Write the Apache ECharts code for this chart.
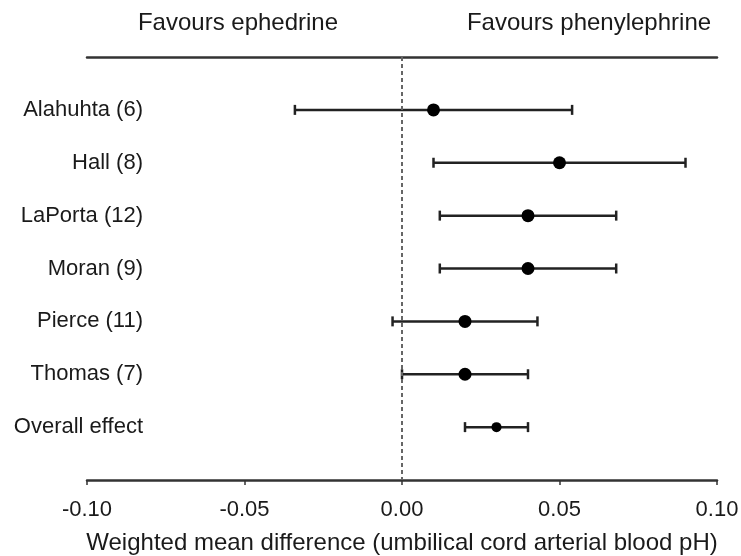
<!DOCTYPE html>
<html>
<head>
<meta charset="utf-8">
<script src="https://cdn.jsdelivr.net/npm/echarts@6/dist/echarts.min.js"></script>
<style>
  html, body { margin: 0; padding: 0; background: #fff; }
  #chart { width: 741px; height: 556px; }
</style>
</head>
<body>
<div id="chart"></div>
<script>
// Forest plot: weighted mean difference in umbilical cord arterial blood pH
const studies = ['Alahuhta (6)', 'Hall (8)', 'LaPorta (12)', 'Moran (9)', 'Pierce (11)', 'Thomas (7)', 'Overall effect'];
const means = [0.01, 0.05, 0.04, 0.04, 0.02, 0.02, 0.03];
const lower = [-0.034, 0.01, 0.012, 0.012, -0.003, 0.0, 0.02];
const upper = [0.054, 0.09, 0.068, 0.068, 0.043, 0.04, 0.04];
const xTicks = [-0.10, -0.05, 0.00, 0.05, 0.10];
const headers = ['Favours ephedrine', 'Favours phenylephrine'];
const xTitle = 'Weighted mean difference (umbilical cord arterial blood pH)';

const FONT = '"Liberation Sans", Arial, Helvetica, sans-serif';
const INK = '#1a1a1a';

const chart = echarts.init(document.getElementById('chart'), null, { renderer: 'canvas' });

const ciData = studies.map((s, i) => [lower[i], upper[i], i]);
const pointData = studies.map((s, i) => [means[i], i]);
const lastIdx = studies.length - 1;

// Confidence interval: horizontal bar with end caps
function renderCI(params, api) {
  const lo = api.coord([api.value(0), api.value(2)]);
  const hi = api.coord([api.value(1), api.value(2)]);
  const cap = 5;
  const style = { stroke: '#222', lineWidth: 2.5, fill: null };
  return {
    type: 'group',
    children: [
      { type: 'line', shape: { x1: lo[0], y1: lo[1], x2: hi[0], y2: hi[1] }, style },
      { type: 'line', shape: { x1: lo[0], y1: lo[1] - cap, x2: lo[0], y2: lo[1] + cap }, style },
      { type: 'line', shape: { x1: hi[0], y1: hi[1] - cap, x2: hi[0], y2: hi[1] + cap }, style }
    ]
  };
}

const option = {
  animation: false,
  backgroundColor: '#fff',
  textStyle: { fontFamily: FONT, color: INK },
  grid: { left: 87, right: 24, top: 57, bottom: 76, containLabel: false, outerBoundsMode: 'none' },
  xAxis: [
    {
      type: 'value',
      position: 'bottom',
      min: xTicks[0],
      max: xTicks[xTicks.length - 1],
      interval: 0.05,
      splitLine: { show: false },
      axisLine: { show: true, onZero: false, lineStyle: { color: '#333', width: 2.5 } },
      axisTick: { show: true, inside: false, length: 5, lineStyle: { color: '#333', width: 1.5 } },
      axisLabel: {
        margin: 19,
        fontSize: 22,
        fontFamily: FONT,
        color: INK,
        formatter: v => v.toFixed(2)
      },
      name: xTitle,
      nameLocation: 'middle',
      nameGap: 51,
      nameTextStyle: { fontSize: 24, fontFamily: FONT, color: INK }
    },
    {
      type: 'value',
      position: 'top',
      min: xTicks[0],
      max: xTicks[xTicks.length - 1],
      interval: 0.05,
      splitLine: { show: false },
      axisLine: { show: true, onZero: false, lineStyle: { color: '#333', width: 2.5 } },
      axisTick: { show: false },
      axisLabel: { show: false }
    }
  ],
  yAxis: {
    type: 'value',
    inverse: true,
    min: -1,
    max: 7,
    interval: 1,
    offset: -64,
    splitLine: { show: false },
    axisLine: { show: false, onZero: false },
    axisTick: { show: false },
    axisLabel: {
      margin: 8,
      fontSize: 22,
      fontFamily: FONT,
      color: INK,
      formatter: v => (studies[v] !== undefined ? studies[v] : '')
    }
  },
  graphic: [
    {
      type: 'text', x: 238, y: 23,
      style: { text: headers[0], font: '24px ' + FONT, fill: INK, textAlign: 'center', textVerticalAlign: 'middle' }
    },
    {
      type: 'text', x: 589, y: 23,
      style: { text: headers[1], font: '24px ' + FONT, fill: INK, textAlign: 'center', textVerticalAlign: 'middle' }
    }
  ],
  series: [
    {
      type: 'custom',
      xAxisIndex: 0,
      renderItem: renderCI,
      encode: { x: [0, 1], y: 2 },
      data: ciData,
      z: 2
    },
    {
      type: 'scatter',
      xAxisIndex: 0,
      data: pointData,
      symbol: 'circle',
      symbolSize: (val, p) => (p.dataIndex === lastIdx ? 10 : 13),
      itemStyle: { color: '#000', opacity: 1 },
      z: 3,
      markLine: {
        silent: true,
        symbol: 'none',
        label: { show: false },
        lineStyle: { color: '#666', type: [4, 3], width: 2 },
        data: [{ xAxis: 0 }]
      }
    }
  ]
};

chart.setOption(option);
</script>
</body>
</html>
